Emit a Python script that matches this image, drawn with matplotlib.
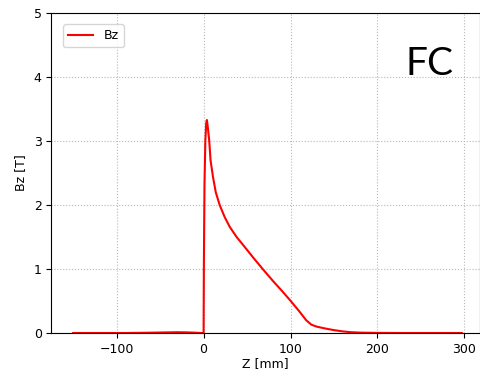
import numpy as np
import matplotlib.pyplot as plt

# Bz profile along Z
z = [-150, -120, -90, -60, -40, -30, -20, -10, -3, 0, 0.3, 1, 2, 3, 3.8, 5, 6.5, 8, 10.8, 14, 18.5, 24, 30,
     38, 47, 57, 68, 80, 90, 99, 110, 118, 124, 130, 140, 150, 160, 170, 180, 200, 230, 260, 297]
bz = [0.0, 0.0, 0.0, 0.005, 0.01, 0.012, 0.01, 0.005, 0.0, 0.0, 1.0, 2.3, 3.0, 3.28, 3.33, 3.2, 3.0, 2.7, 2.44, 2.2, 2.0, 1.82, 1.66,
      1.5, 1.35, 1.18, 1.0, 0.81, 0.66, 0.52, 0.34, 0.2, 0.13, 0.1, 0.07, 0.045, 0.025, 0.012, 0.006, 0.002, 0.0, 0.0, 0.0]

plt.rcParams['font.size'] = 9
fig = plt.figure(figsize=(4.81, 3.75), dpi=100)
ax = fig.add_axes([0.107, 0.112, 0.891, 0.853])
ax.plot(z, bz, color='red', lw=1.5, label='Bz')
ax.set_xlim(-175, 318)
ax.set_ylim(0, 5)
ax.set_xlabel('Z [mm]', labelpad=1)
ax.set_ylabel('Bz [T]', labelpad=5)
ax.grid(True, linestyle=':', color='#b8b8b8')
ax.legend(loc='upper left', bbox_to_anchor=(0.028, 0.966), borderaxespad=0)
ax.text(0.883, 0.806, 'FC', transform=ax.transAxes, ha='center', va='baseline',
        fontsize=28, family='Lato')
fig.savefig('out.png', dpi=100)
